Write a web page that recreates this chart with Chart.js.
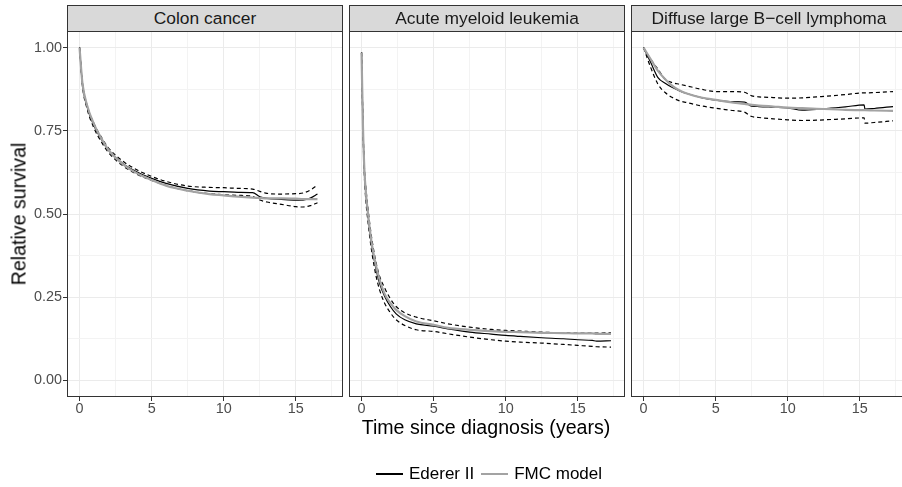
<!DOCTYPE html>
<html>
<head>
<meta charset="utf-8">
<script src="https://cdn.jsdelivr.net/npm/chart.js@4.4.1/dist/chart.umd.min.js"></script>
<style>
  body { margin: 0; width: 902px; height: 487px; overflow: hidden; background: #fff; position: relative;
         font-family: "Liberation Sans", Arial, sans-serif; }
  canvas { position: absolute; top: 31px; }
  .strip { position: absolute; top: 5px; height: 27px; width: 276px; box-sizing: border-box;
           background: #D9D9D9; border: 1px solid #333333; text-align: center;
           font-size: 17.4px; line-height: 25px; color: #1A1A1A; white-space: nowrap; }
  .ytitle { position: absolute; left: 19px; top: 214px; transform: translate(-50%, -50%) rotate(-90deg);
            font-size: 19.6px; color: #000; white-space: nowrap; }
  .xtitle { position: absolute; left: 486px; top: 416px; transform: translateX(-50%);
            font-size: 19.6px; line-height: 22px; color: #000; white-space: nowrap; }
  .legend { position: absolute; left: 376px; top: 463px; height: 22px; display: flex; align-items: center;
            font-size: 17px; color: #000; white-space: nowrap; }
  .key { display: inline-block; width: 27px; height: 2px; margin-right: 6px; }
</style>
</head>
<body>
<canvas id="p0" width="343" height="396" style="left:0px"></canvas>
<canvas id="p1" width="276" height="396" style="left:349px"></canvas>
<canvas id="p2" width="276" height="396" style="left:631px"></canvas>
<div class="ytitle">Relative survival</div>
<div class="xtitle">Time since diagnosis (years)</div>
<div class="legend" id="legend"></div>
<script>
// facets and series
const panelNames = ['Colon cancer', 'Acute myeloid leukemia', 'Diffuse large B\u2212cell lymphoma'];
const seriesNames = ['Ederer II', 'FMC model'];

// axis ticks
const xTickValues = [0, 5, 10, 15];
const xTickLabels = ['0', '5', '10', '15'];
const xMinorValues = [2.5, 7.5, 12.5, 17.5];
const yTickValues = [0, 0.25, 0.5, 0.75, 1];
const yTickLabels = ['0.00', '0.25', '0.50', '0.75', '1.00'];
const yMinorValues = [0.125, 0.375, 0.625, 0.875];

// colon cancer
const colonTime   = [0, 0.2, 0.5, 1, 1.5, 2, 3, 4, 5, 6, 7.5, 9, 10, 11, 12, 12.5, 13, 14, 15, 15.5, 16, 16.5];
const colonEderer = [1.0, 0.89, 0.825, 0.765, 0.725, 0.692, 0.652, 0.626, 0.607, 0.592, 0.577, 0.569, 0.567, 0.565, 0.564, 0.552, 0.547, 0.544, 0.542, 0.542, 0.548, 0.56];
const colonUpper  = [1.0, 0.895, 0.83, 0.772, 0.732, 0.699, 0.659, 0.632, 0.613, 0.598, 0.584, 0.58, 0.579, 0.577, 0.575, 0.568, 0.562, 0.56, 0.561, 0.563, 0.572, 0.587];
const colonLower  = [1.0, 0.885, 0.82, 0.758, 0.718, 0.685, 0.645, 0.619, 0.601, 0.586, 0.57, 0.561, 0.558, 0.556, 0.553, 0.542, 0.536, 0.529, 0.522, 0.521, 0.525, 0.534];
const colonFmc    = [1.0, 0.893, 0.83, 0.77, 0.728, 0.693, 0.65, 0.622, 0.602, 0.585, 0.57, 0.56, 0.556, 0.552, 0.549, 0.548, 0.547, 0.547, 0.546, 0.545, 0.545, 0.545];

// acute myeloid leukemia
const amlTime   = [0, 0.05, 0.1, 0.2, 0.3, 0.45, 0.6, 0.75, 1, 1.25, 1.6, 2, 2.4, 3, 3.8, 5, 6, 7.5, 9, 10, 11, 12.5, 14, 15, 16, 16.3, 17.3];
const amlEderer = [0.985, 0.87, 0.76, 0.625, 0.56, 0.495, 0.44, 0.395, 0.335, 0.292, 0.253, 0.222, 0.2, 0.182, 0.17, 0.163, 0.155, 0.145, 0.139, 0.135, 0.132, 0.128, 0.125, 0.122, 0.12, 0.118, 0.119];
const amlUpper  = [0.985, 0.875, 0.77, 0.64, 0.58, 0.515, 0.46, 0.415, 0.355, 0.313, 0.278, 0.245, 0.222, 0.203, 0.19, 0.179, 0.17, 0.16, 0.153, 0.15, 0.148, 0.145, 0.143, 0.142, 0.142, 0.142, 0.143];
const amlLower  = [0.985, 0.865, 0.75, 0.61, 0.54, 0.475, 0.42, 0.375, 0.315, 0.272, 0.232, 0.203, 0.182, 0.165, 0.152, 0.147, 0.14, 0.13, 0.122, 0.118, 0.115, 0.112, 0.108, 0.105, 0.102, 0.101, 0.1];
const amlFmc    = [0.985, 0.87, 0.76, 0.63, 0.565, 0.5, 0.445, 0.4, 0.345, 0.303, 0.26, 0.232, 0.212, 0.193, 0.177, 0.167, 0.158, 0.152, 0.148, 0.146, 0.145, 0.143, 0.142, 0.141, 0.141, 0.14, 0.14];

// diffuse large B-cell lymphoma
const dlbclTime   = [0, 0.5, 1, 1.5, 2, 2.5, 3, 4, 5, 6, 7, 7.5, 8, 9, 10, 11, 12, 13, 14, 15.3, 15.35, 16, 17.3];
const dlbclEderer = [1.0, 0.955, 0.91, 0.893, 0.88, 0.87, 0.862, 0.85, 0.842, 0.838, 0.836, 0.824, 0.823, 0.821, 0.819, 0.812, 0.814, 0.818, 0.822, 0.828, 0.815, 0.817, 0.823];
const dlbclUpper  = [1.0, 0.965, 0.935, 0.905, 0.895, 0.89, 0.885, 0.875, 0.868, 0.868, 0.866, 0.855, 0.852, 0.85, 0.848, 0.849, 0.852, 0.855, 0.859, 0.864, 0.864, 0.865, 0.868];
const dlbclLower  = [1.0, 0.94, 0.89, 0.865, 0.85, 0.84, 0.835, 0.825, 0.818, 0.812, 0.806, 0.793, 0.79, 0.786, 0.783, 0.781, 0.782, 0.784, 0.786, 0.789, 0.773, 0.775, 0.78];
const dlbclFmc    = [1.0, 0.965, 0.93, 0.905, 0.885, 0.871, 0.862, 0.85, 0.843, 0.836, 0.831, 0.828, 0.826, 0.823, 0.82, 0.818, 0.816, 0.815, 0.813, 0.812, 0.812, 0.811, 0.81];

const panels = [
  { time: colonTime, ederer: colonEderer, upper: colonUpper, lower: colonLower, fmc: colonFmc },
  { time: amlTime, ederer: amlEderer, upper: amlUpper, lower: amlLower, fmc: amlFmc },
  { time: dlbclTime, ederer: dlbclEderer, upper: dlbclUpper, lower: dlbclLower, fmc: dlbclFmc }
];

const black = '#000000';
const grey = '#A3A3A3';

const zip = (xs, ys) => xs.map((x, i) => ({ x: x, y: ys[i] }));
const isMajor = (list, v) => list.some(m => Math.abs(m - v) < 1e-9);

const panelBox = {
  id: 'panelBox',
  afterDatasetsDraw(chart) {
    const a = chart.chartArea, c = chart.ctx;
    c.save();
    c.strokeStyle = '#333333';
    c.lineWidth = 1;
    c.strokeRect(a.left + 0.5, a.top + 0.5, a.right - a.left - 1, a.bottom - a.top - 1);
    c.restore();
  }
};

function gridColor(list) {
  return ctx => (ctx.tick && isMajor(list, ctx.tick.value)) ? '#EBEBEB' : '#F3F3F3';
}
function tickColor(list) {
  return ctx => (ctx.tick && isMajor(list, ctx.tick.value)) ? '#333333' : 'rgba(0,0,0,0)';
}
function noPad(s) {
  s.paddingTop = 0; s.paddingBottom = 0; s.paddingLeft = 0; s.paddingRight = 0;
}

panels.forEach((p, i) => {
  const first = i === 0;
  const left = [0, 349, 631][i];
  const strip = document.createElement('div');
  strip.className = 'strip';
  strip.style.left = (first ? 67 : left) + 'px';
  strip.textContent = panelNames[i];
  document.body.appendChild(strip);

  const line = (label, data, color, width, dash) => ({
    label: label, data: zip(p.time, data), borderColor: color, borderWidth: width,
    borderDash: dash || [], pointRadius: 0, fill: false, cubicInterpolationMode: 'monotone'
  });

  new Chart(document.getElementById('p' + i), {
    type: 'line',
    data: {
      datasets: [
        line(seriesNames[1], p.fmc, grey, 2.2),
        line(seriesNames[0], p.ederer, black, 1.2),
        line('upper', p.upper, black, 1.2, [4, 3]),
        line('lower', p.lower, black, 1.2, [4, 3])
      ]
    },
    options: {
      responsive: false,
      animation: false,
      events: [],
      layout: { autoPadding: false, padding: 0 },
      plugins: { legend: { display: false }, tooltip: { enabled: false } },
      scales: {
        x: {
          type: 'linear', min: -0.87, max: 18.27,
          afterBuildTicks: s => { s.ticks = xTickValues.concat(xMinorValues).sort((a, b) => a - b).map(v => ({ value: v })); },
          afterFit: s => { s.height = 30; noPad(s); },
          border: { display: false },
          grid: { color: gridColor(xTickValues), lineWidth: 1, tickLength: 4, tickColor: tickColor(xTickValues) },
          ticks: {
            autoSkip: false, maxRotation: 0, padding: -1, color: '#4D4D4D',
            font: { family: '"Liberation Sans", Arial, sans-serif', size: 14.4 },
            callback: v => { const k = xTickValues.findIndex(m => Math.abs(m - v) < 1e-9); return k >= 0 ? xTickLabels[k] : ''; }
          }
        },
        y: {
          type: 'linear', min: -0.05, max: 1.05,
          afterBuildTicks: s => { s.ticks = yTickValues.concat(yMinorValues).sort((a, b) => a - b).map(v => ({ value: v })); },
          afterFit: s => { s.width = first ? 67 : 0; noPad(s); },
          border: { display: false },
          grid: { color: gridColor(yTickValues), lineWidth: 1, tickLength: 4, drawTicks: first, tickColor: tickColor(yTickValues) },
          ticks: {
            display: first, autoSkip: false, padding: 1, color: '#4D4D4D',
            font: { family: '"Liberation Sans", Arial, sans-serif', size: 14.4 },
            callback: v => { const k = yTickValues.findIndex(m => Math.abs(m - v) < 1e-9); return k >= 0 ? yTickLabels[k] : ''; }
          }
        }
      }
    },
    plugins: [panelBox]
  });
});

// legend
const legend = document.getElementById('legend');
[[seriesNames[0], black], [seriesNames[1], grey]].forEach(([name, color], k) => {
  const key = document.createElement('span');
  key.className = 'key';
  key.style.background = color;
  if (k > 0) key.style.marginLeft = '7px';
  const txt = document.createElement('span');
  txt.textContent = name;
  legend.appendChild(key);
  legend.appendChild(txt);
});
</script>
</body>
</html>
